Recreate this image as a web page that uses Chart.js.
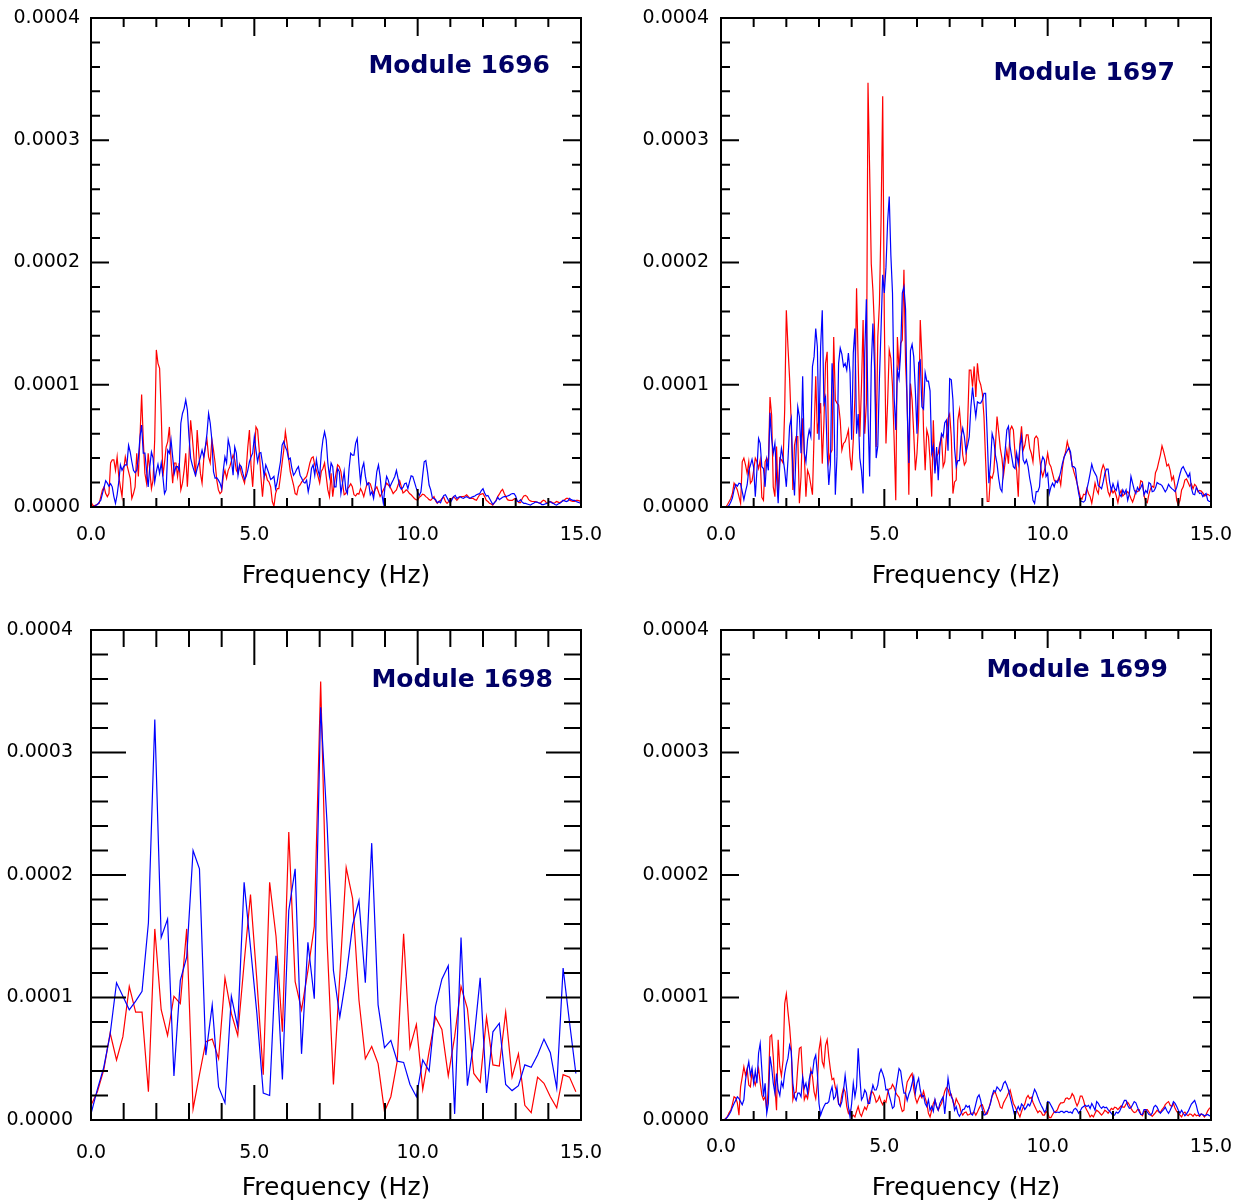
<!DOCTYPE html>
<html>
<head>
<meta charset="utf-8">
<title>Module 1696 - 1699 spectra</title>
<script src="https://cdn.jsdelivr.net/npm/chart.js@4.4.1/dist/chart.umd.min.js"></script>
<style>
  html, body { margin: 0; padding: 0; background: #fff; overflow: hidden; }
  body { width: 1242px; height: 1203px; position: relative; }
  canvas { position: absolute; }
</style>
</head>
<body>
<canvas id="c1696"></canvas>
<canvas id="c1697"></canvas>
<canvas id="c1698"></canvas>
<canvas id="c1699"></canvas>
<script>
/* ============================================================
   DATA  (amplitudes in units of 1e-5)
============================================================ */
const DF_FINE = 0.05;     // Hz between samples, modules 1696 / 1697 / 1699
const DF_1698 = 0.1953;   // Hz between samples, module 1698
const X_LABELS = [0, 5, 10, 15];
const Y_LABELS = [0, 0.0001, 0.0002, 0.0003, 0.0004];
const AMP_UNIT = 1e-5;

const red1696 = [
  0.45, 0.15, 0.1, 0.15, 0.25, 0.3, 0.85, 1.4, 1.65, 1.1,
  0.85, 1.1, 3.6, 3.85, 3.85, 3.0, 4.1, 2.5, 1.65, 0.85,
  3.0, 4.1, 3.45, 2.9, 2.35, 0.7, 1.1, 1.65, 4.4, 2.5,
  5.75, 9.2, 5.5, 2.75, 1.95, 4.4, 3.0, 1.5, 2.2, 5.5,
  12.85, 11.75, 11.35, 7.65, 2.5, 3.6, 4.9, 5.35, 6.55, 3.85,
  1.95, 3.6, 3.6, 2.5, 3.6, 1.4, 1.95, 3.0, 4.4, 1.65,
  4.1, 7.1, 5.75, 4.1, 2.5, 6.3, 4.4, 2.75, 1.95, 3.85,
  4.9, 5.5, 4.1, 3.6, 5.5, 4.65, 3.6, 2.2, 1.4, 1.1,
  1.25, 2.5, 3.0, 2.35, 3.0, 3.3, 3.8, 4.25, 3.85, 3.0,
  2.75, 3.45, 2.75, 2.35, 1.95, 3.0, 4.9, 6.3, 3.3, 1.65,
  4.1, 6.55, 6.3, 4.65, 2.5, 0.85, 2.5, 2.75, 2.2, 2.05,
  1.65, 0.45, 0.05, 1.1, 1.5, 1.5, 2.5, 3.6, 4.65, 6.15,
  5.2, 4.0, 2.9, 2.35, 1.8, 1.1, 1.0, 1.65, 1.8, 2.05,
  2.2, 2.35, 2.5, 3.0, 3.6, 4.0, 4.1, 3.45, 3.0, 2.5,
  1.95, 2.9, 3.15, 3.6, 2.5, 1.4, 0.85, 2.75, 0.85, 1.95,
  2.75, 3.45, 3.3, 2.9, 1.95, 1.0, 1.1, 1.5, 1.65, 1.9,
  1.65, 1.0, 0.9, 1.1, 1.05, 1.5, 1.25, 0.85, 1.4, 1.9,
  2.0, 1.9, 1.45, 1.1, 1.45, 1.65, 1.25, 0.85, 1.1, 1.4,
  1.65, 1.95, 1.8, 1.65, 1.4, 1.1, 1.25, 1.4, 1.8, 2.15,
  1.65, 1.15, 1.25, 1.4, 1.3, 1.1, 1.0, 0.85, 0.7, 0.6,
  0.55, 0.8, 0.9, 1.05, 1.0, 0.85, 0.75, 0.6, 0.55, 0.7,
  0.85, 0.5, 0.3, 0.45, 0.55, 0.7, 0.8, 0.45, 0.3, 0.45,
  0.55, 0.7, 0.85, 0.7, 0.55, 0.7, 0.85, 0.85, 0.85, 0.9,
  1.0, 0.85, 0.7, 0.7, 0.7, 0.6, 0.55, 0.8, 1.0, 1.05,
  1.1, 0.85, 0.55, 0.45, 0.3, 0.25, 0.15, 0.35, 0.55, 0.85,
  1.05, 1.3, 1.45, 1.1, 0.85, 0.6, 0.55, 0.55, 0.55, 0.65,
  0.7, 0.5, 0.35, 0.35, 0.7, 0.9, 0.95, 0.85, 0.6, 0.5,
  0.45, 0.45, 0.45, 0.4, 0.35, 0.3, 0.45, 0.55, 0.5, 0.3,
  0.35, 0.45, 0.4, 0.3, 0.35, 0.45, 0.4, 0.35, 0.45, 0.5,
  0.6, 0.7, 0.7, 0.55, 0.5, 0.45, 0.45, 0.55, 0.55, 0.5,
  0.45
];
const blue1696 = [
  0, 0, 0.05, 0.15, 0.2, 0.4, 0.55, 1.1, 1.6, 2.15,
  1.95, 1.7, 1.9, 1.65, 0.85, 0.3, 1.0, 2.05, 3.45, 3.0,
  3.3, 3.45, 3.45, 5.05, 4.5, 3.7, 3.0, 2.8, 3.0, 4.0,
  5.75, 6.7, 4.4, 4.4, 3.0, 1.65, 3.3, 4.5, 4.0, 2.05,
  2.9, 3.5, 2.75, 3.6, 2.5, 1.1, 1.4, 4.65, 4.4, 5.5,
  4.1, 2.75, 3.3, 3.3, 3.0, 6.85, 7.65, 8.05, 8.75, 7.95,
  5.75, 4.0, 3.45, 3.0, 2.6, 3.15, 3.6, 4.1, 4.65, 4.1,
  4.9, 6.0, 7.65, 6.85, 5.5, 2.9, 2.35, 2.4, 2.2, 1.95,
  1.5, 3.0, 4.1, 3.6, 5.5, 4.9, 3.85, 2.6, 4.9, 4.4,
  2.6, 3.45, 3.3, 2.75, 2.25, 2.5, 3.0, 3.7, 4.1, 4.4,
  5.75, 4.65, 3.7, 4.4, 4.45, 3.6, 2.5, 3.45, 3.1, 2.7,
  2.25, 2.35, 2.5, 1.5, 2.05, 2.9, 3.7, 5.05, 5.35, 4.9,
  4.6, 3.9, 4.0, 3.15, 2.6, 2.8, 3.1, 3.3, 2.6, 2.35,
  2.05, 1.95, 2.2, 1.25, 1.95, 3.15, 3.45, 2.6, 3.85, 3.0,
  2.5, 4.4, 5.5, 6.15, 5.5, 3.6, 2.5, 3.6, 3.3, 1.65,
  1.65, 3.15, 2.9, 1.1, 1.95, 2.9, 1.4, 1.1, 3.15, 4.4,
  4.25, 4.25, 5.2, 5.6, 3.6, 2.05, 3.15, 3.6, 2.5, 1.8,
  1.95, 1.0, 1.25, 0.7, 1.65, 2.9, 3.45, 2.5, 1.1, 0.3,
  1.65, 2.5, 2.2, 1.65, 1.95, 2.2, 2.5, 3.0, 2.35, 1.7,
  1.45, 1.6, 1.9, 1.95, 1.5, 2.05, 2.55, 2.5, 2.05, 1.6,
  1.2, 0.95, 1.25, 2.5, 3.7, 3.8, 2.9, 1.8, 1.4, 0.75,
  0.7, 0.6, 0.35, 0.45, 0.35, 0.7, 0.95, 1.0, 0.75, 0.5,
  0.35, 0.6, 0.85, 0.95, 0.7, 0.8, 0.85, 0.75, 0.7, 0.8,
  0.85, 0.75, 0.7, 0.8, 0.85, 0.9, 1.0, 1.05, 1.1, 1.35,
  1.5, 1.15, 0.9, 0.95, 0.7, 0.45, 0.2, 0.35, 0.5, 0.8,
  0.6, 0.7, 0.8, 0.85, 0.85, 0.9, 0.95, 1.05, 1.1, 1.1,
  0.9, 0.45, 0.45, 0.6, 0.4, 0.3, 0.3, 0.25, 0.2, 0.15,
  0.25, 0.3, 0.4, 0.4, 0.35, 0.3, 0.2, 0.2, 0.25, 0.3,
  0.35, 0.45, 0.35, 0.3, 0.2, 0.15, 0.25, 0.3, 0.4, 0.55,
  0.5, 0.45, 0.5, 0.7, 0.6, 0.55, 0.55, 0.45, 0.4, 0.35,
  0.3
];

const red1697 = [
  0, 0, 0, 0, 0.2, 0.45, 0.7, 1.1, 1.95, 1.7,
  1.4, 0.85, 0.3, 3.7, 4.0, 3.45, 2.75, 3.7, 1.95, 2.15,
  3.0, 4.0, 3.7, 3.15, 3.85, 0.8, 0.55, 3.7, 4.0, 3.55,
  9.0, 7.5, 1.65, 0.85, 4.95, 0.85, 4.0, 3.85, 3.6, 8.0,
  16.1, 13.1, 10.5, 6.85, 1.4, 5.05, 5.75, 5.75, 0.3, 2.5,
  7.25, 4.4, 0.85, 3.0, 2.6, 1.8, 1.0, 6.0, 10.7, 6.0,
  7.25, 8.5, 3.55, 6.85, 11.75, 12.7, 3.7, 4.4, 4.65, 13.9,
  8.75, 8.5, 8.35, 7.1, 4.65, 5.2, 5.35, 5.75, 6.3, 4.1,
  3.0, 5.5, 9.0, 17.9, 11.75, 5.75, 9.85, 15.3, 6.0, 8.5,
  34.7, 27.6, 19.9, 17.75, 14.5, 4.9, 13.9, 16.65, 23.5, 33.6,
  15.3, 5.2, 8.5, 12.85, 12.15, 9.85, 5.5, 0.55, 13.9, 11.2,
  13.4, 13.65, 19.4, 11.75, 8.5, 1.0, 10.1, 8.75, 6.0, 3.0,
  4.4, 7.1, 15.3, 12.3, 6.3, 3.0, 6.3, 5.75, 3.85, 0.85,
  7.1, 3.0, 4.1, 4.4, 5.2, 5.75, 3.3, 3.7, 5.75, 7.25,
  7.6, 5.75, 1.1, 2.05, 2.2, 7.1, 7.95, 6.3, 4.25, 3.45,
  3.7, 6.85, 11.2, 11.2, 9.85, 11.5, 9.0, 11.75, 10.4, 10.0,
  9.3, 7.4, 3.85, 0.45, 0.45, 2.5, 2.35, 2.9, 4.95, 7.4,
  6.15, 4.8, 4.0, 2.6, 3.7, 4.65, 3.55, 6.3, 6.6, 6.3,
  4.4, 3.0, 0.85, 5.2, 6.6, 4.65, 5.05, 5.9, 5.9, 4.8,
  4.4, 3.7, 5.6, 5.8, 5.6, 4.1, 3.0, 2.5, 3.0, 3.55,
  4.4, 3.55, 3.3, 2.75, 2.2, 2.0, 2.15, 2.45, 1.8, 3.15,
  4.05, 4.5, 5.35, 4.8, 4.25, 3.45, 2.9, 2.45, 1.95, 1.35,
  0.8, 0.65, 1.05, 1.0, 1.5, 1.1, 0.85, 0.3, 1.1, 1.95,
  1.4, 1.1, 2.2, 3.0, 3.45, 3.1, 2.05, 1.25, 0.9, 1.5,
  1.15, 1.35, 0.9, 0.35, 1.05, 1.35, 0.9, 1.05, 1.1, 1.25,
  1.05, 0.7, 0.4, 0.8, 1.35, 1.25, 1.35, 2.15, 2.05, 0.95,
  0.45, 0.35, 1.05, 1.5, 1.7, 1.6, 2.8, 3.1, 3.7, 4.25,
  5.0, 4.55, 4.0, 3.35, 3.5, 3.0, 2.2, 2.5, 1.65, 0.55,
  0.15, 0.55, 1.4, 1.65, 2.2, 2.3, 2.0, 1.7, 1.9, 1.5,
  1.85, 1.7, 1.25, 1.35, 1.3, 1.15, 0.9, 0.95, 1.05, 0.95,
  0.85
];
const blue1697 = [
  0, 0, 0, 0, 0, 0.15, 0.4, 0.75, 1.4, 1.85,
  1.7, 1.95, 1.9, 1.25, 0.6, 1.25, 1.8, 3.0, 3.4, 3.9,
  3.25, 0.85, 3.0, 5.6, 5.2, 3.3, 3.15, 1.65, 3.85, 3.0,
  7.7, 5.6, 4.4, 5.2, 2.5, 0.3, 3.55, 4.8, 4.0, 3.0,
  1.65, 3.85, 6.6, 7.25, 3.0, 0.95, 4.75, 8.2, 7.4, 4.4,
  10.7, 4.4, 3.7, 5.5, 6.3, 5.75, 11.5, 12.3, 14.6, 13.1,
  5.5, 13.1, 16.1, 8.5, 9.0, 4.5, 1.8, 3.5, 11.75, 9.3,
  1.0, 4.1, 11.75, 13.0, 12.5, 11.5, 11.75, 11.2, 12.6, 11.0,
  5.5, 12.6, 14.6, 6.0, 7.6, 4.0, 3.0, 1.1, 12.5, 17.0,
  7.5, 2.5, 11.5, 15.0, 11.5, 4.0, 5.0, 10.5, 14.6, 19.0,
  17.5, 19.6, 23.3, 25.4, 20.6, 17.5, 9.0, 6.3, 11.2, 10.5,
  12.7, 17.5, 18.0, 16.2, 8.0, 3.6, 12.8, 13.3, 12.3, 9.5,
  6.0, 11.8, 12.0, 8.2, 8.0, 11.0, 10.3, 10.3, 9.5, 4.4,
  5.0, 2.75, 4.9, 2.2, 4.9, 6.0, 5.75, 6.9, 7.1, 4.6,
  10.5, 10.4, 8.75, 4.8, 3.3, 3.8, 3.8, 5.75, 6.45, 5.75,
  4.5, 5.05, 5.75, 8.2, 9.8, 8.5, 7.4, 8.6, 8.5, 8.5,
  8.75, 9.3, 9.3, 5.75, 1.95, 3.55, 6.0, 5.5, 4.25, 3.55,
  2.35, 1.5, 1.25, 3.3, 4.65, 6.3, 6.6, 4.95, 4.1, 3.3,
  3.15, 4.4, 3.55, 4.95, 5.75, 3.85, 3.55, 3.85, 3.3, 2.35,
  1.65, 0.55, 0.3, 1.25, 1.25, 1.65, 3.55, 4.1, 3.85, 2.5,
  2.75, 1.1, 1.65, 1.95, 1.65, 2.15, 2.0, 2.35, 2.9, 3.55,
  4.05, 4.35, 4.6, 4.85, 4.5, 3.3, 3.3, 3.15, 1.95, 1.1,
  0.5, 0.45, 0.4, 0.55, 1.45, 2.05, 2.75, 3.5, 3.0, 2.75,
  2.5, 1.75, 1.65, 1.5, 2.05, 2.75, 3.1, 3.1, 2.0, 1.35,
  1.9, 1.5, 1.35, 2.0, 1.05, 0.85, 1.4, 1.1, 1.4, 0.55,
  1.1, 2.5, 1.95, 1.4, 1.1, 1.6, 1.35, 1.6, 1.9, 1.0,
  1.35, 1.15, 2.0, 1.9, 1.25, 1.3, 1.55, 2.0, 1.9, 1.85,
  1.75, 1.5, 1.25, 1.45, 1.85, 1.65, 1.5, 1.4, 1.25, 1.6,
  2.15, 2.7, 3.15, 3.3, 3.0, 2.75, 2.45, 2.75, 1.55, 1.05,
  1.0, 1.6, 1.35, 1.1, 1.15, 0.85, 1.0, 1.1, 0.55, 0.45,
  0.45
];

const red1698 = [
  1.2, 2.3, 4.1, 7.1, 4.9, 6.8, 10.9, 8.8, 8.8, 2.3,
  15.6, 9.0, 6.9, 10.1, 9.5, 15.6, 0.9, 3.7, 6.4, 6.6,
  5.0, 11.6, 8.7, 6.9, 12.8, 18.4, 11.4, 3.7, 19.4, 15.0,
  7.2, 23.5, 11.3, 9.0, 12.2, 15.8, 35.8, 14.7, 2.9, 11.8,
  20.6, 18.1, 9.8, 5.0, 6.0, 4.6, 0.7, 1.9, 4.8, 15.2,
  5.9, 7.8, 2.5, 5.6, 8.4, 7.4, 3.6, 6.8, 10.9, 9.1,
  3.8, 3.1, 8.4, 4.5, 4.4, 8.8, 3.5, 5.4, 1.2, 0.6,
  3.5, 3.0, 1.9, 1.0, 3.7, 3.5, 2.3
];
const blue1698 = [
  0.5, 2.5, 4.3, 7.0, 11.2, 10.1, 9.0, 9.7, 10.5, 16.1,
  32.7, 14.9, 16.4, 3.6, 11.4, 13.3, 22.0, 20.5, 5.3, 9.4,
  2.7, 1.4, 10.1, 7.6, 19.4, 14.1, 8.7, 2.2, 2.0, 13.4,
  3.3, 17.1, 20.5, 5.4, 14.5, 9.9, 33.7, 24.2, 12.2, 8.4,
  11.7, 15.9, 17.9, 11.2, 22.6, 9.4, 5.9, 6.5, 4.8, 4.7,
  2.9, 1.9, 4.9, 4.0, 9.3, 11.5, 12.6, 0.5, 14.9, 2.8,
  6.4, 11.6, 2.2, 7.2, 7.9, 2.9, 2.4, 2.8, 4.5, 4.3,
  5.3, 6.6, 5.5, 2.6, 12.4, 8.0, 3.8
];

const red1699 = [
  0, 0, 0, 0.15, 0.3, 0.6, 0.8, 1.3, 1.9, 1.8,
  1.4, 0.4, 2.7, 3.5, 4.35, 3.65, 4.2, 2.85, 2.7, 3.95,
  3.25, 2.85, 3.5, 4.2, 3.05, 2.05, 1.65, 1.9, 0.8, 2.7,
  6.8, 6.95, 5.15, 2.7, 0.8, 6.55, 4.35, 3.6, 4.9, 9.5,
  10.3, 8.85, 7.6, 5.85, 1.65, 2.2, 2.3, 4.35, 5.85, 5.95,
  3.55, 1.65, 2.05, 1.75, 2.6, 4.1, 3.55, 2.3, 1.75, 3.0,
  5.7, 6.55, 4.75, 4.35, 6.1, 6.55, 5.15, 4.1, 3.3, 3.4,
  2.65, 2.25, 1.3, 1.2, 2.05, 2.6, 2.3, 1.1, 0.55, 0.8,
  0.25, 0.4, 0.25, 0.7, 1.1, 0.55, 0.3, 0.7, 1.05, 0.85,
  1.25, 1.8, 2.35, 2.25, 1.95, 1.45, 1.6, 1.95, 1.5, 1.25,
  1.6, 1.45, 2.2, 2.55, 2.55, 2.9, 2.65, 2.25, 2.0, 1.85,
  1.15, 0.7, 0.8, 2.25, 3.1, 3.35, 3.6, 3.8, 2.55, 1.8,
  1.4, 1.75, 2.05, 1.8, 2.35, 1.8, 1.35, 0.55, 0.25, 0.8,
  1.35, 1.65, 1.1, 0.8, 1.1, 1.35, 1.8, 2.35, 2.65, 2.5,
  2.0, 2.1, 1.5, 1.15, 1.75, 1.45, 1.2, 0.65, 0.4, 0.6,
  0.65, 0.4, 0.45, 0.55, 0.55, 0.65, 0.4, 0.65, 0.95, 1.2,
  1.25, 0.85, 0.45, 0.5, 0.95, 1.45, 1.95, 2.2, 2.25, 1.85,
  1.5, 1.05, 0.95, 1.4, 1.65, 1.9, 2.2, 2.45, 1.9, 1.35,
  1.1, 0.8, 0.55, 0.25, 0.7, 1.05, 1.3, 1.8, 2.0, 1.75,
  1.85, 1.45, 1.15, 0.85, 0.6, 0.75, 0.65, 0.4, 0.4, 0.7,
  0.6, 0.2, 0.2, 0.45, 0.65, 0.7, 0.85, 1.2, 1.4, 1.4,
  1.45, 1.75, 1.8, 1.7, 1.8, 2.15, 1.95, 1.5, 1.15, 1.45,
  1.95, 1.95, 1.6, 1.05, 0.8, 0.55, 0.25, 0.4, 0.25, 0.55,
  0.8, 0.7, 0.55, 0.4, 0.55, 0.8, 0.7, 0.55, 0.75, 0.95,
  0.85, 1.05, 1.0, 0.85, 1.0, 1.15, 1.05, 1.05, 1.3, 1.45,
  1.25, 0.95, 0.75, 0.6, 0.65, 0.85, 0.85, 0.5, 0.35, 0.65,
  0.85, 0.85, 0.65, 0.45, 0.3, 0.45, 0.6, 0.8, 0.65, 0.6,
  0.85, 1.0, 1.25, 1.4, 1.5, 1.2, 1.1, 1.35, 0.95, 0.7,
  0.55, 0.4, 0.25, 0.55, 0.65, 0.45, 0.35, 0.5, 0.45, 0.3,
  0.5, 0.35, 0.4, 0.3, 0.5, 0.4, 0.25, 0.45, 0.75, 0.95,
  1.05
];
const blue1699 = [
  0, 0, 0, 0.1, 0.25, 0.45, 0.7, 1.05, 1.35, 1.6,
  1.9, 1.75, 1.5, 1.25, 1.65, 3.25, 4.1, 4.75, 3.65, 4.25,
  3.0, 4.0, 3.0, 5.45, 6.25, 4.1, 1.9, 3.0, 0.55, 1.35,
  5.2, 4.35, 3.0, 2.2, 3.8, 2.45, 2.0, 3.1, 2.7, 3.8,
  4.55, 5.05, 6.1, 5.6, 3.0, 1.9, 1.6, 2.2, 2.2, 1.9,
  3.5, 2.6, 3.0, 2.2, 3.3, 3.95, 3.8, 4.9, 5.3, 3.8,
  1.35, 0.4, 0.8, 1.1, 1.35, 1.35, 1.5, 2.25, 2.7, 1.7,
  1.9, 2.65, 1.35, 1.1, 1.5, 2.4, 3.65, 2.45, 1.1, 0.25,
  1.35, 3.0, 1.9, 2.7, 5.85, 3.55, 1.65, 1.9, 2.45, 2.2,
  1.35, 1.35, 2.2, 2.85, 2.45, 2.45, 2.85, 3.8, 4.15, 3.8,
  3.35, 2.45, 2.5, 2.0, 1.5, 0.95, 1.1, 2.45, 3.35, 4.2,
  4.0, 3.0, 2.2, 2.2, 1.6, 2.1, 2.45, 3.0, 3.55, 2.2,
  3.0, 3.4, 2.45, 1.9, 2.0, 1.35, 1.1, 1.65, 0.8, 1.1,
  0.7, 1.65, 1.1, 0.8, 1.35, 1.65, 1.9, 0.5, 1.9, 3.4,
  2.5, 1.9, 1.65, 0.8, 1.1, 0.55, 0.3, 0.55, 0.85, 0.9,
  1.2, 1.05, 1.15, 0.5, 0.4, 0.75, 1.3, 1.85, 2.05, 1.6,
  0.85, 0.4, 0.45, 0.7, 0.95, 1.35, 2.0, 2.4, 2.3, 2.7,
  2.55, 2.35, 2.55, 3.0, 3.15, 2.85, 2.45, 1.9, 1.35, 0.8,
  0.25, 0.8, 1.1, 0.8, 1.3, 1.15, 0.85, 1.05, 1.3, 1.15,
  1.5, 2.05, 2.5, 2.25, 1.85, 1.5, 1.2, 0.95, 0.65, 0.8,
  1.5, 1.45, 1.2, 0.95, 0.65, 0.6, 0.65, 0.6, 0.7, 0.7,
  0.6, 0.7, 0.7, 0.6, 0.65, 0.55, 0.85, 0.95, 0.8, 0.55,
  0.75, 1.0, 1.1, 1.2, 1.1, 1.2, 0.95, 1.35, 1.1, 0.8,
  1.5, 1.35, 1.1, 0.95, 1.1, 1.0, 1.05, 0.85, 0.7, 0.55,
  0.35, 0.4, 0.65, 0.55, 0.7, 1.0, 1.3, 1.6, 1.6, 1.2,
  0.95, 1.0, 1.25, 1.5, 1.4, 1.05, 0.7, 0.45, 0.45, 0.85,
  0.85, 0.65, 0.45, 0.4, 0.55, 1.05, 1.2, 1.05, 0.75, 0.55,
  0.7, 0.85, 1.05, 0.75, 0.55, 0.8, 1.1, 1.5, 1.35, 1.1,
  0.8, 0.55, 0.8, 0.55, 0.35, 0.5, 0.7, 1.0, 1.3, 1.45,
  1.6, 1.2, 0.65, 0.35, 0.5, 0.45, 0.35, 0.4, 0.45, 0.35,
  0.4
];

/* ============================================================
   LAYOUT (page pixels)
============================================================ */
const PANELS = [
  { id: "c1696", title: "Module 1696", red: red1696, blue: blue1696, df: DF_FINE,
    left: 0, top: 0, width: 621, height: 600, plotL: 91, plotR: 581, plotT: 18, plotB: 507,
    yPad: 11, xPad: 17, titleBottom: 9, tickMin: 9, tickMaj: 18, labelRight: 31, labelTop: 48 },
  { id: "c1697", title: "Module 1697", red: red1697, blue: blue1697, df: DF_FINE,
    left: 621, top: 0, width: 621, height: 600, plotL: 721, plotR: 1211, plotT: 18, plotB: 507,
    yPad: 12, xPad: 17, titleBottom: 9, tickMin: 9, tickMaj: 18, labelRight: 36, labelTop: 55 },
  { id: "c1698", title: "Module 1698", red: red1698, blue: blue1698, df: DF_1698,
    left: 0, top: 612, width: 621, height: 591, plotL: 91, plotR: 581, plotT: 630, plotB: 1120,
    yPad: 18, xPad: 22, titleBottom: 0, tickMin: 17, tickMaj: 35, labelRight: 28, labelTop: 50 },
  { id: "c1699", title: "Module 1699", red: red1699, blue: blue1699, df: DF_FINE,
    left: 621, top: 612, width: 621, height: 591, plotL: 721, plotR: 1211, plotT: 630, plotB: 1120,
    yPad: 12, xPad: 16, titleBottom: 0, tickMin: 9, tickMaj: 18, labelRight: 43, labelTop: 40 },
];

const TICK_FONT = { family: "'DejaVu Sans', Verdana, sans-serif", size: 19 };
const AXIS_FONT = { family: "'DejaVu Sans', Verdana, sans-serif", size: 25 };

/* ============================================================
   PLUGIN: frame, inward ticks on four sides, module label
============================================================ */
const frameTicks = {
  id: "frameTicks",
  afterDatasetsDraw(chart, args, o) {
    const { ctx, chartArea: a, scales: { x, y } } = chart;
    ctx.save();
    ctx.strokeStyle = "#000";
    ctx.lineWidth = 2;
    ctx.beginPath();
    for (let f = 0; f <= 15; f++) {
      const px = x.getPixelForValue(f);
      const len = f % 5 === 0 ? o.major : o.minor;
      ctx.moveTo(px, a.bottom); ctx.lineTo(px, a.bottom - len);
      ctx.moveTo(px, a.top); ctx.lineTo(px, a.top + len);
    }
    for (let i = 0; i <= 20; i++) {
      const py = y.getPixelForValue(i * 2e-5);
      const len = i % 5 === 0 ? o.major : o.minor;
      ctx.moveTo(a.left, py); ctx.lineTo(a.left + len, py);
      ctx.moveTo(a.right, py); ctx.lineTo(a.right - len, py);
    }
    ctx.stroke();
    ctx.strokeRect(a.left, a.top, a.right - a.left, a.bottom - a.top);

    ctx.fillStyle = "#000066";
    ctx.font = "bold 25px 'DejaVu Sans', sans-serif";
    ctx.textAlign = "right";
    ctx.textBaseline = "middle";
    ctx.fillText(o.label, a.right - o.labelRight, a.top + o.labelTop);
    ctx.restore();
  },
};

/* ============================================================
   BUILD
============================================================ */
function toPoints(vals, df) {
  return vals.map((v, i) => ({ x: i * df, y: v * AMP_UNIT }));
}

// keep the plot box where the panel asks for it
function noEdgePadding(s) {
  s.paddingLeft = 0;
  s.paddingRight = 0;
  s.paddingTop = 0;
  s.paddingBottom = 0;
}

function buildPanel(p) {
  const canvas = document.getElementById(p.id);
  canvas.width = p.width;
  canvas.height = p.height;
  canvas.style.left = p.left + "px";
  canvas.style.top = p.top + "px";

  return new Chart(canvas, {
    type: "line",
    data: {
      datasets: [
        {
          label: "blue",
          data: toPoints(p.blue, p.df),
          borderColor: "#0000ff",
          borderWidth: 1.2,
          pointRadius: 0,
          pointHoverRadius: 0,
          tension: 0,
        },
        {
          label: "red",
          data: toPoints(p.red, p.df),
          borderColor: "#ff0000",
          borderWidth: 1.2,
          pointRadius: 0,
          pointHoverRadius: 0,
          tension: 0,
        },
      ],
    },
    options: {
      responsive: false,
      animation: false,
      devicePixelRatio: 1,
      events: [],
      layout: {
        autoPadding: false,
        padding: { top: p.plotT - p.top, right: p.left + p.width - p.plotR, left: 0, bottom: 0 },
      },
      plugins: {
        legend: { display: false },
        tooltip: { enabled: false },
        frameTicks: { label: p.title, minor: p.tickMin, major: p.tickMaj,
                      labelRight: p.labelRight, labelTop: p.labelTop },
      },
      scales: {
        x: {
          type: "linear",
          min: 0,
          max: 15,
          grid: { display: false, drawTicks: false },
          border: { display: false },
          afterBuildTicks: (s) => { s.ticks = X_LABELS.map((v) => ({ value: v })); },
          ticks: {
            padding: p.xPad,
            maxRotation: 0,
            autoSkip: false,
            color: "#000",
            font: TICK_FONT,
            callback: (v) => Number(v).toFixed(1),
          },
          title: {
            display: true,
            text: "Frequency (Hz)",
            color: "#000",
            font: AXIS_FONT,
            padding: { top: 0, bottom: p.titleBottom },
          },
          afterFit: (s) => {
            s.height = p.top + p.height - p.plotB;
            noEdgePadding(s);
          },
        },
        y: {
          min: 0,
          max: 0.0004,
          grid: { display: false, drawTicks: false },
          border: { display: false },
          afterBuildTicks: (s) => { s.ticks = Y_LABELS.map((v) => ({ value: v })); },
          ticks: {
            padding: p.yPad,
            color: "#000",
            font: TICK_FONT,
            callback: (v) => Number(v).toFixed(4),
          },
          afterFit: (s) => {
            s.width = p.plotL - p.left;
            noEdgePadding(s);
          },
        },
      },
    },
    plugins: [frameTicks],
  });
}

document.addEventListener("DOMContentLoaded", () => {
  PANELS.forEach(buildPanel);
});
</script>
</body>
</html>
